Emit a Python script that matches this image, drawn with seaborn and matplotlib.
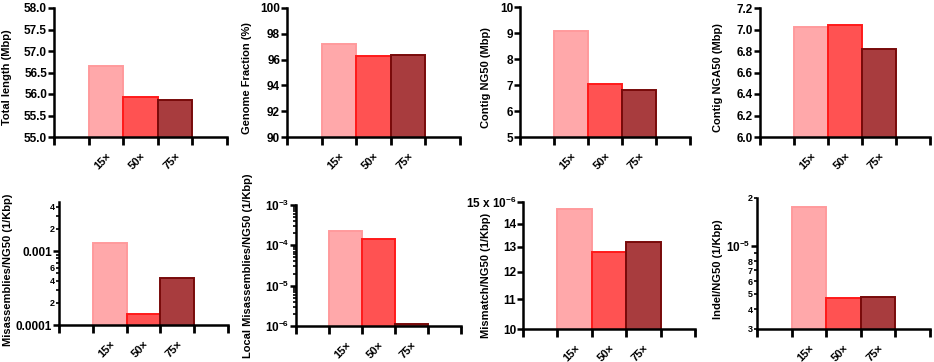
import numpy as np
import matplotlib
matplotlib.use("Agg")
import matplotlib.pyplot as plt
import seaborn as sns
from matplotlib.ticker import (FixedLocator, FuncFormatter, LogLocator,
                               NullFormatter, NullLocator, MultipleLocator)

sns.set_style("ticks")
plt.rcParams["font.family"] = ["Liberation Sans", "DejaVu Sans"]
plt.rcParams["font.weight"] = "bold"
plt.rcParams["text.color"] = "black"
plt.rcParams["axes.labelcolor"] = "black"
plt.rcParams["mathtext.fontset"] = "custom"
plt.rcParams["mathtext.rm"] = "Liberation Sans:bold"
plt.rcParams["mathtext.bf"] = "Liberation Sans:bold"
plt.rcParams["mathtext.default"] = "bf"

# data
coverage = ["15×", "50×", "75×"]
total_length = [56.65, 55.92, 55.87]          # Mbp
genome_fraction = [97.23, 96.27, 96.32]       # %
contig_ng50 = [9.09, 7.04, 6.82]              # Mbp
contig_nga50 = [7.02, 7.04, 6.82]             # Mbp
misassemblies = [1.30e-3, 1.42e-4, 4.36e-4]   # 1/Kbp per NG50
local_mis = [2.26e-4, 1.44e-4, 1.10e-6]
mismatch = [14.65, 12.78, 13.19]              # x 1e-6
indel = [1.75e-5, 4.69e-6, 4.80e-6]

fills = ["#FFA8AA", "#FF5252", "#A83C3E"]
edges = ["#FF9A9C", "#FF1A1A", "#780A0A"]

W, H = 934, 362
fig = plt.figure(figsize=(W / 100, H / 100), dpi=100)


def add_ax(l, t, r, b):
    return fig.add_axes([l / W, (H - b) / H, (r - l) / W, (b - t) / H])


def bars(ax, vals, ylabel, labx, laby=0.5, log=False):
    sns.barplot(x=coverage, y=vals, hue=coverage, palette=fills, width=1.0,
                saturation=1, legend=False, ax=ax, linewidth=1.4)
    for p, ec in zip(ax.patches, edges):
        p.set_edgecolor(ec)
    if log:
        ax.set_yscale("log")
    sns.despine(ax=ax)
    ax.set_axisbelow(False)
    for s in ("left", "bottom"):
        ax.spines[s].set_linewidth(1.8)
        ax.spines[s].set_color("black")
    ax.set_xlim(-1.5, 3.5)
    # tick marks on the bar edges, labels under the bar centres
    ax.xaxis.set_major_locator(FixedLocator(np.arange(-1.5, 4.0, 1.0)))
    ax.xaxis.set_major_formatter(NullFormatter())
    ax.xaxis.set_minor_locator(FixedLocator([0, 1, 2]))
    ax.xaxis.set_minor_formatter(FuncFormatter(lambda v, p: coverage[int(round(v))]))
    ax.tick_params(axis="x", which="minor", length=0, pad=10, labelsize=8)
    ax.set_xlabel("")
    ax.set_ylabel(ylabel, fontsize=8, fontweight="bold")
    ax.yaxis.set_label_coords(labx, laby)
    return ax


def finish(ax):
    ax.tick_params(axis="x", which="major", bottom=True, direction="out",
                   length=6, width=2, color="black")
    ax.tick_params(axis="y", which="major", left=True, length=4, width=1.8,
                   color="black", labelcolor="black", labelsize=8.5, pad=1)
    ax.tick_params(axis="y", which="minor", left=True, length=2, width=1.2,
                   color="black", labelcolor="black", labelsize=6.5, pad=1)
    for t in ax.xaxis.get_major_ticks():
        t.tick1line.set_visible(True)
        t.tick1line.set_markeredgecolor("black")
        t.tick1line.set_zorder(5)
    for lab in ax.get_xticklabels(minor=True):
        lab.set_rotation(45)
        lab.set_ha("right")
        lab.set_rotation_mode("anchor")
        lab.set_fontweight("bold")
        lab.set_color("black")


# top row
ax = bars(add_ax(54, 8, 227, 137), total_length, "Total length (Mbp)", -0.24, 0.46)
ax.set_ylim(55, 58)
ax.yaxis.set_major_locator(MultipleLocator(0.5))
ax.yaxis.set_major_formatter(FuncFormatter(lambda v, p: f"{v:.1f}"))
finish(ax)

ax = bars(add_ax(287, 8, 460, 137), genome_fraction, "Genome Fraction (%)", -0.2, 0.46)
ax.set_ylim(90, 100)
ax.yaxis.set_major_locator(MultipleLocator(2))
finish(ax)

ax = bars(add_ax(520, 7, 690, 137), contig_ng50, "Contig NG50 (Mbp)", -0.17, 0.46)
ax.set_ylim(5, 10)
ax.yaxis.set_major_locator(MultipleLocator(1))
finish(ax)

ax = bars(add_ax(760, 8, 930, 137), contig_nga50, "Contig NGA50 (Mbp)", -0.218, 0.46)
ax.set_ylim(6.0, 7.2)
ax.yaxis.set_major_locator(MultipleLocator(0.2))
ax.yaxis.set_major_formatter(FuncFormatter(lambda v, p: f"{v:.1f}"))
finish(ax)


def mantissa(v):
    return int(round(v / 10 ** np.floor(np.log10(v) + 1e-9)))


# bottom row
ax = bars(add_ax(59, 202, 228, 325), misassemblies,
          "Misassemblies/NG50 (1/Kbp)", -0.272, 0.45, log=True)
ax.set_ylim(1e-4, 4.64e-3)
ax.yaxis.set_major_locator(FixedLocator([1e-4, 1e-3]))
ax.yaxis.set_major_formatter(FuncFormatter(lambda v, p: "0.0001" if v < 5e-4 else "0.001"))
ax.yaxis.set_minor_locator(LogLocator(subs=np.arange(2, 10), numticks=20))
ax.yaxis.set_minor_formatter(FuncFormatter(
    lambda v, p: str(mantissa(v)) if mantissa(v) in (2, 4, 6) else ""))
finish(ax)

ax = bars(add_ax(296, 205, 461, 326), local_mis,
          "Local Misassemblies/NG50 (1/Kbp)", -0.26, 0.5, log=True)
ax.set_ylim(1e-6, 1e-3)
ax.yaxis.set_major_locator(FixedLocator([1e-6, 1e-5, 1e-4, 1e-3]))
ax.yaxis.set_major_formatter(FuncFormatter(
    lambda v, p: r"$10^{%d}$" % int(round(np.log10(v)))))
ax.yaxis.set_minor_locator(LogLocator(subs=np.arange(2, 10), numticks=20))
ax.yaxis.set_minor_formatter(NullFormatter())
finish(ax)

ax = bars(add_ax(523, 202, 695, 329), mismatch,
          "Mismatch/NG50 (1/Kbp)", -0.186, 0.42, log=True)
ax.set_ylim(10, 15)
ax.yaxis.set_major_locator(FixedLocator([10, 11, 12, 13, 14, 15]))
ax.yaxis.set_major_formatter(FuncFormatter(
    lambda v, p: r"15 x $10^{-6}$" if v > 14.5 else f"{int(round(v))}"))
ax.yaxis.set_minor_locator(NullLocator())
finish(ax)

ax = bars(add_ax(757, 198, 930, 329), indel, "Indel/NG50 (1/Kbp)", -0.197, 0.46, log=True)
ax.set_ylim(3e-6, 2e-5)
ax.yaxis.set_major_locator(FixedLocator([1e-5]))
ax.yaxis.set_major_formatter(FuncFormatter(lambda v, p: r"$10^{-5}$"))
ax.yaxis.set_minor_locator(FixedLocator([3e-6, 4e-6, 5e-6, 6e-6, 7e-6, 8e-6, 9e-6, 2e-5]))
ax.yaxis.set_minor_formatter(FuncFormatter(
    lambda v, p: "" if mantissa(v) == 9 else str(mantissa(v))))
finish(ax)

fig.savefig("out.png", dpi=100)
